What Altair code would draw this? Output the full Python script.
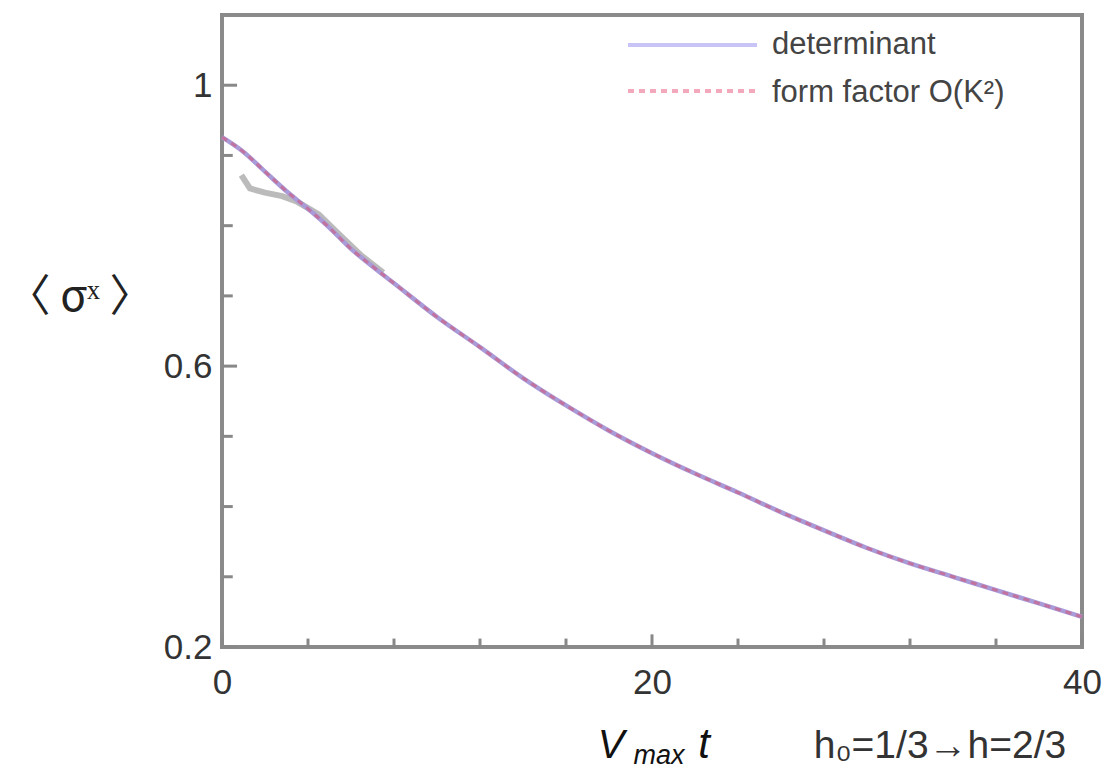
import altair as alt
import pandas as pd

# ---- data ----
t_vals = [0, 1, 2, 3, 4, 5, 6, 7, 8, 10, 12, 14, 16, 18, 20, 22, 24, 26, 28, 30, 32, 34, 36, 38, 40]
det_vals = [0.926, 0.905, 0.877, 0.849, 0.824, 0.797, 0.767, 0.742, 0.718, 0.670, 0.627, 0.583,
            0.544, 0.508, 0.476, 0.447, 0.420, 0.392, 0.366, 0.341, 0.319, 0.300, 0.281, 0.262, 0.243]
ff_vals = [0.926, 0.905, 0.877, 0.849, 0.824, 0.797, 0.767, 0.742, 0.718, 0.670, 0.627, 0.583,
           0.544, 0.508, 0.476, 0.447, 0.420, 0.392, 0.366, 0.341, 0.319, 0.300, 0.281, 0.262, 0.243]
num_t = [0.9, 1.3, 2.0, 2.8, 3.5, 4.5, 5.5, 6.5, 7.5]
num_vals = [0.872, 0.853, 0.847, 0.842, 0.834, 0.816, 0.786, 0.757, 0.733]

x_major = [0, 20, 40]
x_minor = [4, 8, 12, 16, 24, 28, 32, 36]
y_major = [0.2, 0.6, 1.0]
y_minor = [0.3, 0.4, 0.5, 0.7, 0.8, 0.9]

legend_labels = ["determinant", "form factor O(K²)"]
x_title_parts = ["V", "max", "t"]
annotation = "h₀=1/3→h=2/3"
y_title = "〈 σˣ 〉"

FONT = "Liberation Sans"
XD = [0, 40]
YD = [0.2, 1.1]

xs = alt.Scale(domain=XD, nice=False, zero=False)
ys = alt.Scale(domain=YD, nice=False, zero=False)

det_df = pd.DataFrame({"t": t_vals, "v": det_vals})
ff_df = pd.DataFrame({"t": t_vals, "v": ff_vals})
num_df = pd.DataFrame({"t": num_t, "v": num_vals})

base_axes = alt.Chart(pd.DataFrame({"t": [0], "v": [0.2]})).mark_point(opacity=0).encode(
    x=alt.X("t:Q", scale=xs, title=None,
            axis=alt.Axis(values=x_major, domain=False, ticks=False, grid=False,
                          labelFontSize=35, labelFont=FONT, labelColor="#333",
                          labelPadding=18, labelFlush=False)),
    y=alt.Y("v:Q", scale=ys, title=None,
            axis=alt.Axis(values=y_major, format="~g", domain=False, ticks=False, grid=False,
                          labelFontSize=35, labelFont=FONT, labelColor="#333",
                          labelPadding=10, labelFlush=False)),
)

# ticks (inward)
xt = pd.DataFrame({"t": x_major + x_minor,
                   "kind": ["major"] * len(x_major) + ["minor"] * len(x_minor)})
xt["y0"] = 0.2
xt["y1"] = [0.2 + (0.018 if k == "major" else 0.012) for k in xt["kind"]]
x_ticks = alt.Chart(xt).mark_rule(color="#888", strokeWidth=3).encode(
    x=alt.X("t:Q", scale=xs), y=alt.Y("y0:Q", scale=ys), y2="y1:Q")

yt = pd.DataFrame({"v": y_major + y_minor,
                   "kind": ["major"] * len(y_major) + ["minor"] * len(y_minor)})
yt["x0"] = 0
yt["x1"] = [0.7 if k == "major" else 0.5 for k in yt["kind"]]
y_ticks = alt.Chart(yt).mark_rule(color="#888", strokeWidth=3).encode(
    y=alt.Y("v:Q", scale=ys), x=alt.X("x0:Q", scale=xs), x2="x1:Q")

num_line = alt.Chart(num_df).mark_line(color="#aaaaaa", strokeWidth=6, opacity=0.8).encode(
    x=alt.X("t:Q", scale=xs), y=alt.Y("v:Q", scale=ys))
det_line = alt.Chart(det_df).mark_line(color="#a99ad8", strokeWidth=4.5, interpolate="monotone").encode(
    x=alt.X("t:Q", scale=xs), y=alt.Y("v:Q", scale=ys))
ff_line = alt.Chart(ff_df).mark_line(color="#c86890", strokeWidth=3, strokeDash=[6, 5],
                                     interpolate="monotone", opacity=0.8).encode(
    x=alt.X("t:Q", scale=xs), y=alt.Y("v:Q", scale=ys))

# legend
one = pd.DataFrame({"a": [0]})
leg1 = alt.Chart(one).mark_rule(color="#c8c4f8", strokeWidth=4).encode(
    x=alt.value(406), x2=alt.value(535), y=alt.value(30))
leg2 = alt.Chart(one).mark_rule(color="#f4a8bc", strokeWidth=4,
                                strokeDash=[6, 5]).encode(
    x=alt.value(406), x2=alt.value(535), y=alt.value(76))
leg_t1 = alt.Chart(pd.DataFrame({"s": [legend_labels[0]]})).mark_text(
    align="left", baseline="middle", font=FONT, fontSize=31, color="#444").encode(
    text="s:N", x=alt.value(550), y=alt.value(30))
leg_t2 = alt.Chart(pd.DataFrame({"s": [legend_labels[1]]})).mark_text(
    align="left", baseline="middle", font=FONT, fontSize=31, color="#444").encode(
    text="s:N", x=alt.value(550), y=alt.value(78))

# titles
ytitle = alt.Chart(pd.DataFrame({"s": [y_title]})).mark_text(
    font="Noto Sans CJK JP", fontSize=44, color="#222", align="center", baseline="middle").encode(
    text="s:N", x=alt.value(-142), y=alt.value(283))
xt_v = alt.Chart(pd.DataFrame({"s": [x_title_parts[0]]})).mark_text(
    font=FONT, fontSize=40, fontStyle="italic", color="#111", align="center",
    baseline="alphabetic").encode(
    text="s:N", x=alt.value(389), y=alt.value(743))
xt_max = alt.Chart(pd.DataFrame({"s": [x_title_parts[1]]})).mark_text(
    font=FONT, fontSize=27, fontStyle="italic", color="#111", align="center",
    baseline="bottom").encode(
    text="s:N", x=alt.value(437), y=alt.value(755))
xt_t = alt.Chart(pd.DataFrame({"s": [x_title_parts[2]]})).mark_text(
    font=FONT, fontSize=42, fontStyle="italic", color="#111", align="center",
    baseline="alphabetic").encode(
    text="s:N", x=alt.value(482), y=alt.value(743))
annot = alt.Chart(pd.DataFrame({"s": [annotation]})).mark_text(
    font=FONT, fontSize=39, color="#333", align="center", baseline="alphabetic").encode(
    text="s:N", x=alt.value(718), y=alt.value(743))

chart = alt.layer(
    base_axes, x_ticks, y_ticks, num_line, det_line, ff_line,
    leg1, leg2, leg_t1, leg_t2, ytitle, xt_v, xt_max, xt_t, annot
).properties(
    width=860, height=632,
    padding={"left": 222, "top": 15, "right": 23, "bottom": 125},
    autosize=alt.AutoSizeParams(type="none"),
).configure(
    background="white",
    view=alt.ViewConfig(stroke="#8a8a8a", strokeWidth=4),
)

chart.save("out.html", embed_options={"renderer": "svg", "actions": False})
